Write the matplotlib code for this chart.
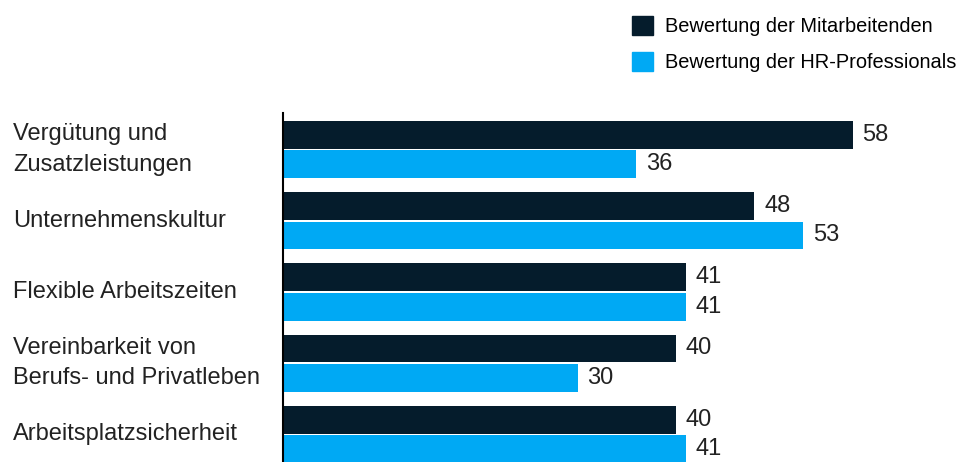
import numpy as np
import matplotlib.pyplot as plt
from matplotlib.patches import Patch

categories = ['Vergütung und\nZusatzleistungen', 'Unternehmenskultur', 'Flexible Arbeitszeiten',
              'Vereinbarkeit von\nBerufs- und Privatleben', 'Arbeitsplatzsicherheit']
mitarbeitende = [58, 48, 41, 40, 40]
hr_professionals = [36, 53, 41, 30, 41]
series_names = ['Bewertung der Mitarbeitenden', 'Bewertung der HR-Professionals']

dark = '#051c2c'
light = '#00a9f4'

plt.rcParams['font.family'] = ['Liberation Sans', 'DejaVu Sans']

fig = plt.figure(figsize=(9.73, 4.62), dpi=100)
ax = fig.add_axes([283 / 973, 0, 0.66, (462 - 113) / 462])

y = np.arange(len(categories))
h = 0.39
off = 0.207
ax.barh(y - off, mitarbeitende, height=h, color=dark)
ax.barh(y + off, hr_professionals, height=h, color=light)

for i in range(len(categories)):
    ax.text(mitarbeitende[i] + 1, y[i] - off, str(mitarbeitende[i]), va='center', ha='left',
            fontsize=17, color='#222222')
    ax.text(hr_professionals[i] + 1, y[i] + off, str(hr_professionals[i]), va='center', ha='left',
            fontsize=17, color='#222222')
    ax.text(-27.5, y[i], categories[i], va='center', ha='left', fontsize=17,
            color='#222222', linespacing=1.5)

ax.set_xlim(0, 65.4)
ax.set_ylim(4.386, -0.512)
ax.set_xticks([])
ax.set_yticks([])
for s in ['top', 'right', 'bottom']:
    ax.spines[s].set_visible(False)
ax.spines['left'].set_linewidth(1.5)
ax.spines['left'].set_color('black')

handles = [Patch(color=dark), Patch(color=light)]
fig.legend(handles, series_names, loc='upper left', bbox_to_anchor=(632 / 973, 1 - 16 / 462),
           frameon=False, fontsize=14.4, handlelength=1.05, handleheight=1.05,
           handletextpad=0.6, labelspacing=0.8, borderpad=0, borderaxespad=0)

fig.savefig('out.png', dpi=100)
